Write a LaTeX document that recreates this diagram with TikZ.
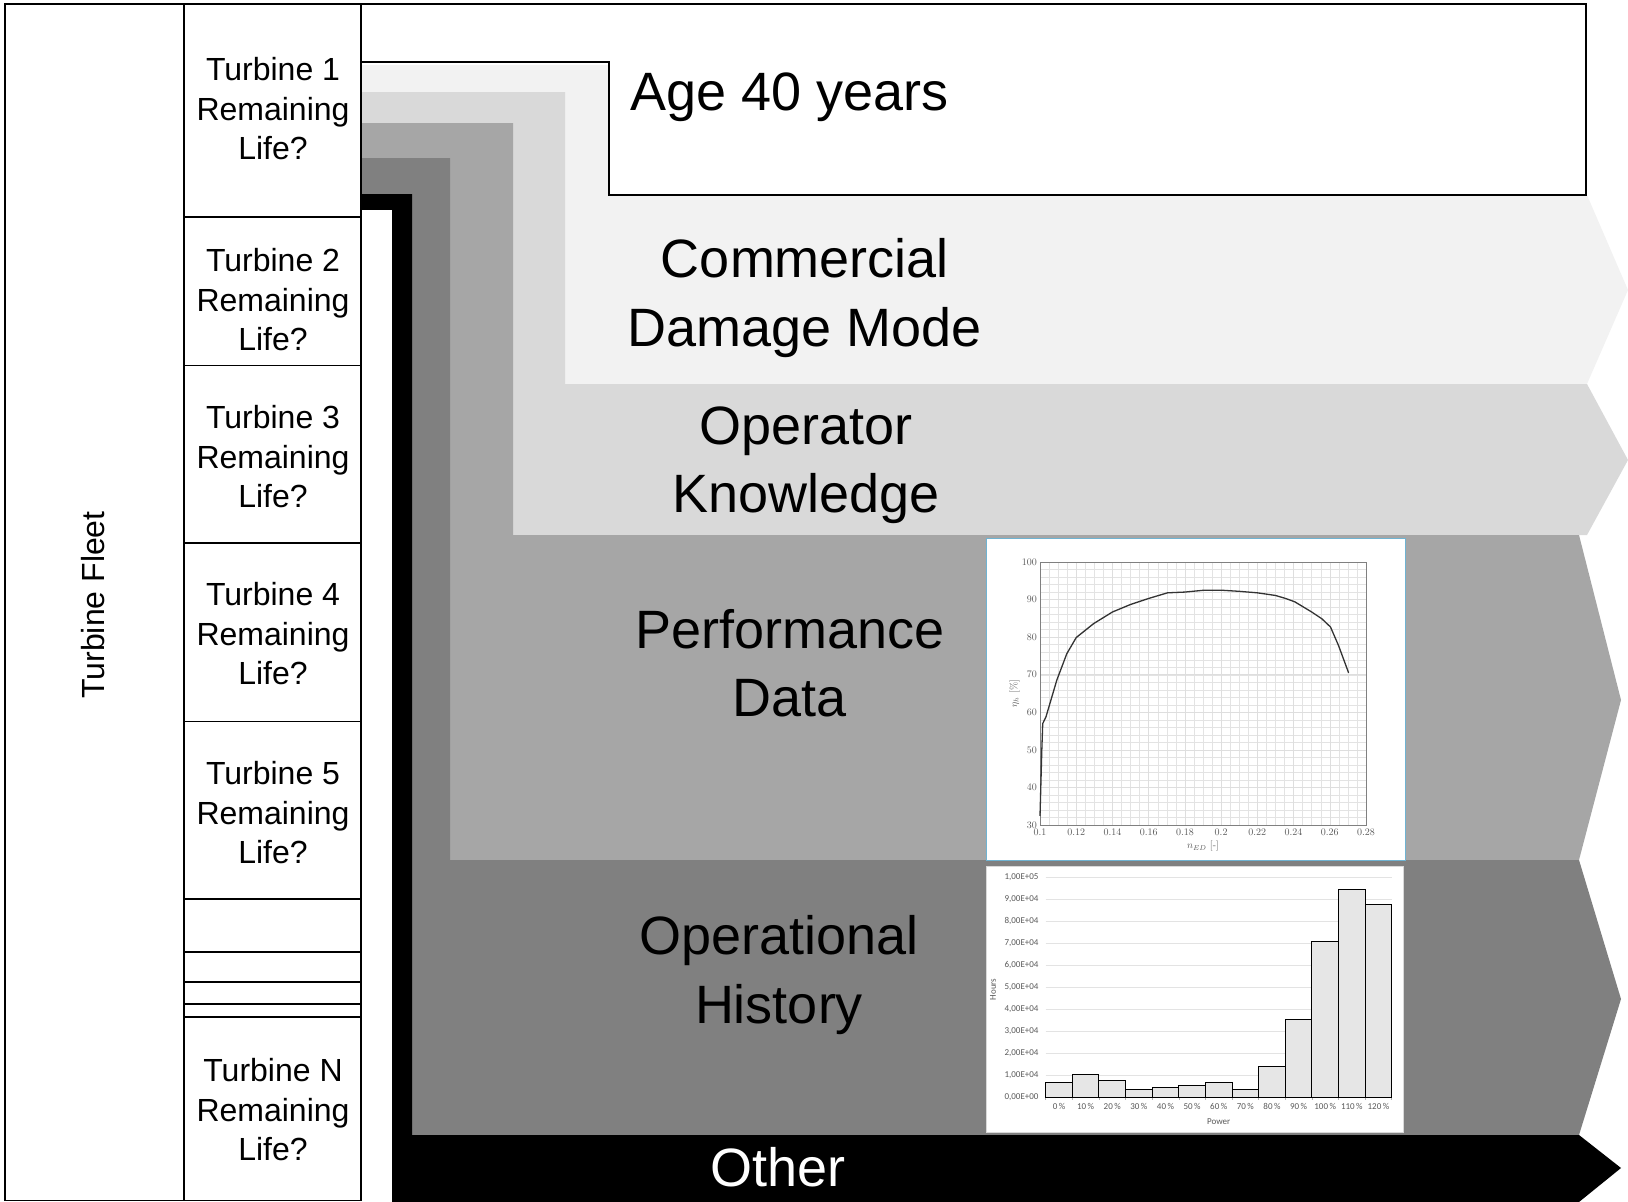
\documentclass[tikz,border=0pt]{standalone}
\usepackage{fontspec}
\setsansfont{Liberation Sans}
\newfontfamily\calib{Carlito}
\usetikzlibrary{positioning}

\definecolor{bandA}{HTML}{F2F2F2}
\definecolor{bandB}{HTML}{D9D9D9}
\definecolor{bandC}{HTML}{A6A6A6}
\definecolor{bandD}{HTML}{808080}
\definecolor{chartedge}{HTML}{6FB3D2}
\definecolor{barfill}{HTML}{E6E6E6}
\definecolor{gridline}{HTML}{E3E3E3}
\definecolor{labelgrey}{HTML}{595959}

\tikzset{
  bandtext/.style={font=\sffamily\fontsize{54}{68.5}\selectfont, align=center, inner sep=0pt},
  turbtext/.style={font=\sffamily\fontsize{32}{39.5}\selectfont, align=center, inner sep=0pt},
  perflabel/.style={font=\fontsize{10}{12}\selectfont, text=labelgrey, inner sep=1pt},
  histlabel/.style={font=\calib\fontsize{9}{11}\selectfont, text=labelgrey, inner sep=1pt},
}

\begin{document}
\begin{tikzpicture}[x=1pt, y=-1pt]
\useasboundingbox (0,0) rectangle (1628,1202);

% nested bands, back to front
\fill[bandA] (361,65) -- (609,65) -- (609,195) -- (1587,195) -- (1628,290) -- (1587,384) -- (361,384) -- cycle;
\fill[bandB] (361,92) -- (565,92) -- (565,384) -- (1587,384) -- (1628,460) -- (1587,535) -- (361,535) -- cycle;
\fill[bandC] (361,123) -- (513,123) -- (513,535) -- (1579,535) -- (1621,700) -- (1579,860) -- (361,860) -- cycle;
\fill[bandD] (361,158) -- (450,158) -- (450,860) -- (1579,860) -- (1621,999) -- (1579,1135) -- (361,1135) -- cycle;
\fill[black] (361,194) -- (412,194) -- (412,1135) -- (1579,1135) -- (1621,1168) -- (1579,1202) -- (361,1202) -- cycle;
\fill[white] (361,210) rectangle (392,1202);

% age box
\draw[fill=white, line width=1.5pt] (361,4) -- (1586,4) -- (1586,195) -- (609,195) -- (609,62) -- (361,62) -- cycle;

% fleet and turbine column
\draw[line width=1.5pt] (5,4) rectangle (184,1200.5);
\draw[line width=1.5pt] (184,4) rectangle (361,1200.5);
\foreach \j in {217,365.5,543,721.6,899,952,982,1004,1017} {
    \draw[line width=1.5pt] (184,\j) -- (361,\j);
  }
\node[turbtext, rotate=90] (fleet) at (93,605) {Turbine Fleet};
\node[turbtext] (t1) at (273,109) {Turbine 1\\Remaining\\Life?};
\node[turbtext] (t2) at (273,300) {Turbine 2\\Remaining\\Life?};
\node[turbtext] (t3) at (273,457) {Turbine 3\\Remaining\\Life?};
\node[turbtext] (t4) at (273,634) {Turbine 4\\Remaining\\Life?};
\node[turbtext] (t5) at (273,813) {Turbine 5\\Remaining\\Life?};
\node[turbtext] (tN) at (273,1110) {Turbine N\\Remaining\\Life?};

% band labels
\node[bandtext, anchor=base west] (age) at (630,110) {Age 40 years};
\node[bandtext] (cdm) at (805,298) {Commercial\\Damage Mode};
\node[bandtext] (opk) at (806,465) {Operator\\Knowledge};
\node[bandtext] (perf) at (790,663) {Performance\\Data};
\node[bandtext] (ophist) at (779,975) {Operational\\History};
\node[bandtext, text=white] (other) at (778,1167) {Other};

% performance chart
\draw[chartedge, fill=white, line width=0.8pt] (986,538) rectangle (1405,860);
\begin{scope}[shift={(1040,825)}, x=18.111pt, y=3.757pt]
  \draw[gridline, line width=0.4pt] (0,0) grid[xstep=0.5, ystep=2] (18,70);
  \draw[black!13, line width=0.5pt] (0,0) grid[xstep=2, ystep=10] (18,70);
  \draw[black!50, line width=0.6pt] (0,0) rectangle (18,70);
  \foreach \i/\l in {0/0.1,2/0.12,4/0.14,6/0.16,8/0.18,10/0.2,12/0.22,14/0.24,16/0.26,18/0.28} {
      \node[perflabel, below=3pt] (px\i) at (\i,0) {\l};
    }
  \foreach \k in {30,40,...,100} {
      \node[perflabel, left=2pt] (py\k) at (0,\k-30) {\k};
    }
  \node[perflabel, below=15pt] (pxlab) at (9,0) {$n_{ED}$ [-]};
  \node[perflabel, rotate=90] (pylab) at (-1.4,35) {$\eta_h$ [\%]};
  \draw[black!80, line width=1.3pt, line join=round] plot coordinates {
      (0,2.4) (0.1,20) (0.15,27) (0.33,28.8) (0.93,38.6) (1.48,45.6) (2,49.9)
      (2.96,53.6) (4,56.7) (5,58.7) (6,60.3) (7.04,61.8) (8,62) (9.07,62.5)
      (10,62.5) (11,62.2) (12,61.8) (13,61.1) (13.56,60.3) (14.07,59.4)
      (15,56.7) (15.56,54.9) (16.04,52.7) (16.48,47.8) (17.04,40.5)};
\end{scope}

% operating hours histogram
\draw[black!15, fill=white, line width=0.8pt] (986,866) rectangle (1403,1132);
\begin{scope}[shift={(1045.7,1097.3)}, x=26.62pt, y=22pt]
  \foreach \k in {1,...,10} {
      \draw[gridline, line width=0.8pt] (0,\k) -- (13,\k);
    }
  \draw[black!30, line width=0.8pt] (0,0) -- (13,0);
  \foreach \i in {0,...,13} {
      \draw[black!30, line width=0.6pt] (\i,0) -- (\i,-0.12);
    }
  \foreach \i/\h in {0/0.68,1/1.05,2/0.76,3/0.36,4/0.44,5/0.55,6/0.67,7/0.36,8/1.39,9/3.53,10/7.08,11/9.45,12/8.77} {
      \draw[fill=barfill, line width=1pt] (\i,0) rectangle (\i+1,\h);
    }
  \node[histlabel, left=6pt] (hy0) at (0,0) {0,00E+00};
  \foreach \k in {1,...,9} {
      \node[histlabel, left=6pt] (hy\k) at (0,\k) {\k,00E+04};
    }
  \node[histlabel, left=6pt] (hy10) at (0,10) {1,00E+05};
  \foreach \i/\l in {0/0,1/10,2/20,3/30,4/40,5/50,6/60,7/70,8/80,9/90,10/100,11/110,12/120} {
      \node[histlabel, below=5pt] (hx\i) at (\i+0.5,0) {\l\,\%};
    }
  \node[histlabel, below=20pt] (hxlab) at (6.5,0) {Power};
  \node[histlabel, rotate=90] (hylab) at (-1.98,4.9) {Hours};
\end{scope}
\end{tikzpicture}
\end{document}
